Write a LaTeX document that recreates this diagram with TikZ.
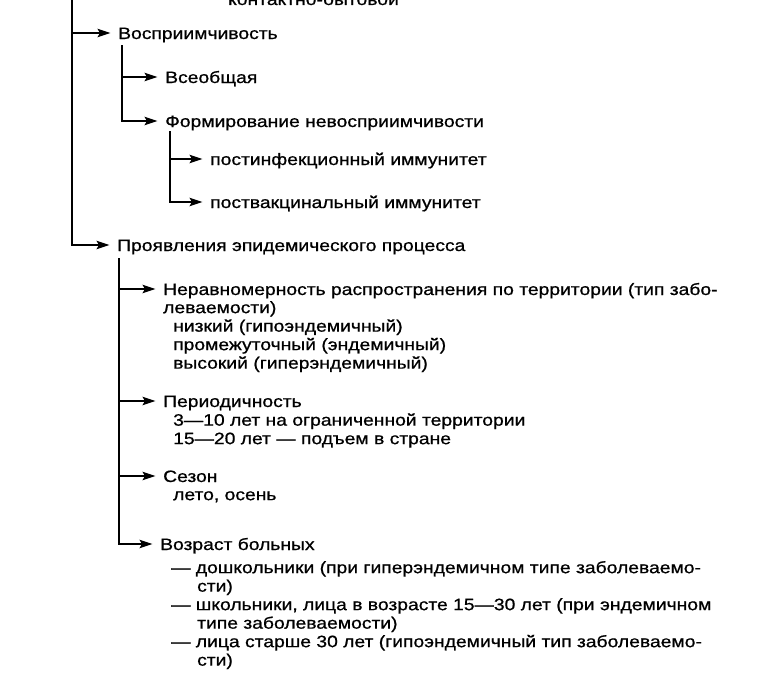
\documentclass[tikz,border=0pt]{standalone}
\usepackage{fontspec}
\setmainfont[FakeStretch=1.17,FakeBold=0.8]{Liberation Sans}
\usetikzlibrary{arrows.meta,positioning}

\begin{document}
\begin{tikzpicture}[
  x=1pt,y=-1pt,
  font=\fontsize{16.5}{18.5}\selectfont,
  hdr/.style={anchor=base west,inner sep=0pt,text height=12pt,text depth=0pt},
  dtl/.style={anchor=north west,inner sep=0pt,align=left},
  arr/.style={-{Stealth[length=13pt,width=8.5pt,inset=2.5pt]},line width=1.7pt,shorten >=7.5pt},
]
  \useasboundingbox (0,0) rectangle (760,680);

  % Branch cut off at the top
  \node[hdr] (kontakt) at (228,5) {контактно-бытовой};

  % Susceptibility
  \node[hdr] (vospr)   at (118,39)  {Восприимчивость};
  \node[hdr] (vseob)   at (165,83)  {Всеобщая};
  \node[hdr] (formir)  at (165,127) {Формирование невосприимчивости};
  \node[hdr] (postinf) at (210,165) {постинфекционный иммунитет};
  \node[hdr] (postvak) at (210,208) {поствакцинальный иммунитет};

  % Manifestations of the epidemic process
  \node[hdr] (proyav)  at (117,251) {Проявления эпидемического процесса};
  \node[hdr] (nerav)   at (163,295) {Неравномерность распространения по территории (тип забо-};
  \node[dtl] (neravd)  at (163,300) {\strut леваемости)\\
    \hspace*{10pt}низкий (гипоэндемичный)\\
    \hspace*{10pt}промежуточный (эндемичный)\\
    \hspace*{10pt}высокий (гиперэндемичный)};
  \node[hdr] (period)  at (163,407) {Периодичность};
  \node[dtl] (periodd) at (173,412.5) {\strut 3—10 лет на ограниченной территории\\
    15—20 лет — подъем в стране};
  \node[hdr] (sezon)   at (163,482) {Сезон};
  \node[dtl] (sezond)  at (173,487) {\strut лето, осень};
  \node[hdr] (vozrast) at (160,550) {Возраст больных};
  \node[dtl] (vozrastd) at (171,560) {\strut — дошкольники (при гиперэндемичном типе заболеваемо-\\
    \hspace*{26pt}сти)\\
    — школьники, лица в возрасте 15—30 лет (при эндемичном\\
    \hspace*{26pt}типе заболеваемости)\\
    — лица старше 30 лет (гипоэндемичный тип заболеваемо-\\
    \hspace*{26pt}сти)};

  % Connectors
  \coordinate (trunk) at (72,-10);
  \draw[arr] (trunk) |- (vospr);
  \draw[arr] (trunk) |- (proyav);
  \draw[arr] ([xshift=4pt,yshift=-6pt]vospr.south west) |- (vseob);
  \draw[arr] ([xshift=4pt,yshift=-6pt]vospr.south west) |- (formir);
  \draw[arr] ([xshift=5pt,yshift=-4pt]formir.south west) |- (postinf);
  \draw[arr] ([xshift=5pt,yshift=-4pt]formir.south west) |- (postvak);
  \draw[arr] ([xshift=2pt,yshift=-7pt]proyav.south west) |- (nerav);
  \draw[arr] ([xshift=2pt,yshift=-7pt]proyav.south west) |- (period);
  \draw[arr] ([xshift=2pt,yshift=-7pt]proyav.south west) |- (sezon);
  \draw[arr] ([xshift=2pt,yshift=-7pt]proyav.south west) |- (vozrast);
\end{tikzpicture}
\end{document}
